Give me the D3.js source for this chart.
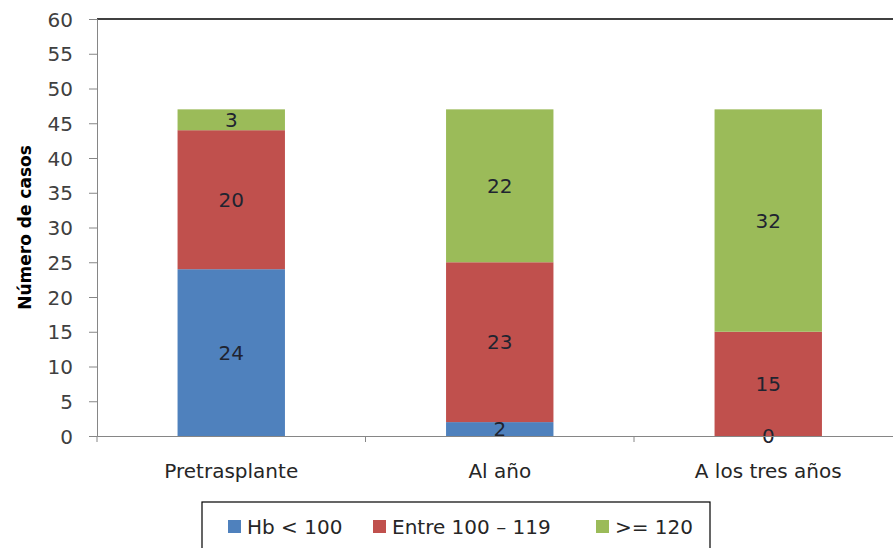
<!DOCTYPE html>
<html>
<head>
<meta charset="utf-8">
<script src="https://cdn.jsdelivr.net/npm/d3@7"></script>
<style>
  html, body { margin: 0; padding: 0; background: #fff; }
  svg { display: block; font-family: "DejaVu Sans", "Noto Sans", sans-serif; }
</style>
</head>
<body>
<svg id="chart" width="893" height="548"></svg>
<script>
// Categories, series and values
const categories = ["Pretrasplante", "Al año", "A los tres años"];
const seriesNames = ["Hb < 100", "Entre 100 – 119", ">= 120"];
const hbLow = [24, 2, 0];
const hbMid = [20, 23, 15];
const hbHigh = [3, 22, 32];
const yTicks = [0, 5, 10, 15, 20, 25, 30, 35, 40, 45, 50, 55, 60];
const colors = ["#4F81BD", "#C0504D", "#9BBB59"];

const FONT = "'DejaVu Sans', 'Noto Sans', sans-serif";
const svg = d3.select("#chart");
const margin = { left: 97, top: 19 };
const plotRight = 902.5;
const plotBottom = 436;

const rows = categories.map((c, i) => ({ cat: c, s0: hbLow[i], s1: hbMid[i], s2: hbHigh[i] }));
const stack = d3.stack().keys(["s0", "s1", "s2"])(rows);

const x = d3.scaleBand().domain(categories).range([margin.left, plotRight]).paddingInner(0.6).paddingOuter(0.3);
const xOuter = d3.scaleBand().domain(categories).range([margin.left, plotRight]);
const y = d3.scaleLinear().domain([0, 60]).range([plotBottom, margin.top]);

// Top border of plot area
svg.append("line")
  .attr("x1", margin.left).attr("x2", 893)
  .attr("y1", margin.top).attr("y2", margin.top)
  .attr("stroke", "#404040").attr("stroke-width", 2);

// Bars
const layers = svg.append("g").selectAll("g").data(stack).join("g")
  .attr("fill", (d, i) => colors[i]);
layers.selectAll("rect").data(d => d).join("rect")
  .attr("x", d => x(d.data.cat))
  .attr("width", x.bandwidth())
  .attr("y", d => y(d[1]))
  .attr("height", d => y(d[0]) - y(d[1]));

// Value labels centred on each segment
stack.forEach(layer => {
  svg.append("g").selectAll("text").data(layer).join("text")
    .attr("x", d => x(d.data.cat) + x.bandwidth() / 2)
    .attr("y", d => y((d[0] + d[1]) / 2))
    .attr("dy", "0.36em")
    .attr("text-anchor", "middle")
    .attr("font-family", FONT)
    .attr("font-size", 20)
    .attr("fill", "#1f2430")
    .text(d => d[1] - d[0]);
});

// Y axis
const yAxis = svg.append("g")
  .attr("transform", `translate(${margin.left},0)`)
  .call(d3.axisLeft(y).tickValues(yTicks).tickSize(8).tickPadding(16));
yAxis.select(".domain").attr("stroke", "#868686");
yAxis.selectAll(".tick line").attr("stroke", "#868686");
yAxis.selectAll(".tick text").attr("font-size", 20).attr("fill", "#404040")
  .attr("font-family", FONT).attr("dy", "0.36em");

// X axis
const xAxis = svg.append("g")
  .attr("transform", `translate(0,${plotBottom})`)
  .call(d3.axisBottom(xOuter).tickSize(0));
xAxis.select(".domain").attr("stroke", "#868686");
xAxis.selectAll(".tick text").attr("font-size", 20).attr("fill", "#262626")
  .attr("font-family", FONT).attr("y", 42).attr("dy", 0);
// Category boundary tick marks
const boundaries = categories.map(c => xOuter(c)).concat([plotRight]);
svg.append("g").selectAll("line").data(boundaries).join("line")
  .attr("x1", d => d).attr("x2", d => d)
  .attr("y1", plotBottom).attr("y2", plotBottom + 6)
  .attr("stroke", "#868686");

// Y axis title
svg.append("text")
  .attr("transform", `translate(25,${(margin.top + plotBottom) / 2}) rotate(-90)`)
  .attr("text-anchor", "middle")
  .attr("dy", "0.36em")
  .attr("font-family", FONT)
  .attr("font-size", 17)
  .attr("font-weight", "bold")
  .attr("fill", "#000")
  .text("Número de casos");

// Legend
const legend = svg.append("g");
legend.append("rect")
  .attr("x", 202).attr("y", 502).attr("width", 508).attr("height", 60)
  .attr("fill", "#fff").attr("stroke", "#000").attr("stroke-width", 1.2);
const legendX = [228, 373, 596];
seriesNames.forEach((name, i) => {
  legend.append("rect")
    .attr("x", legendX[i]).attr("y", 520).attr("width", 13).attr("height", 13)
    .attr("fill", colors[i]);
  legend.append("text")
    .attr("x", legendX[i] + 19).attr("y", 527).attr("dy", "0.36em")
    .attr("font-family", FONT)
    .attr("font-size", 20).attr("fill", "#262626")
    .text(name);
});
</script>
</body>
</html>
